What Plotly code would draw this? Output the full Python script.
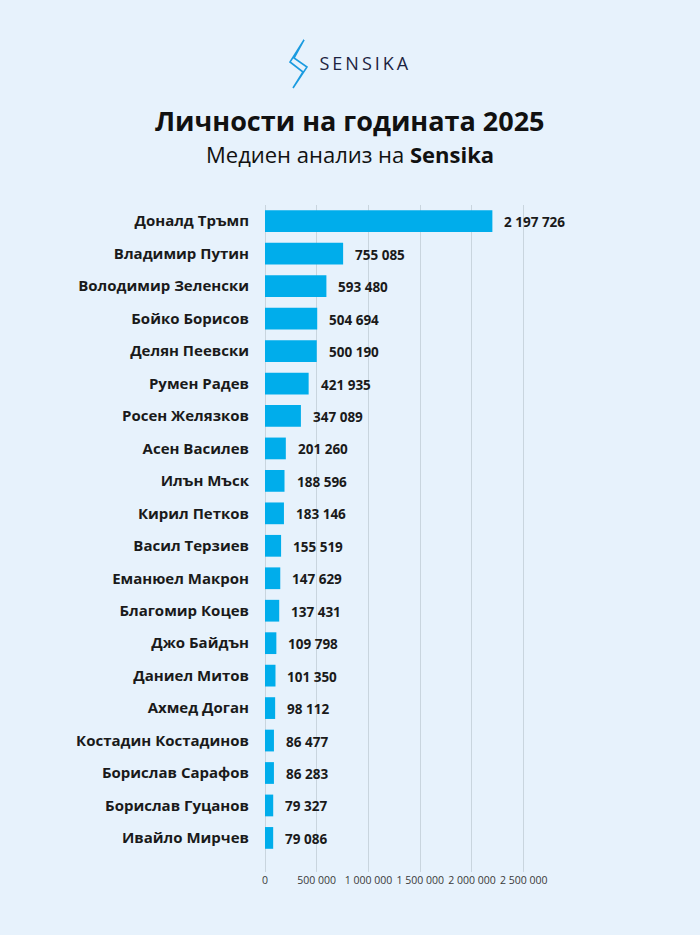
import plotly.graph_objects as go

names = ["Доналд Тръмп", "Владимир Путин", "Володимир Зеленски", "Бойко Борисов",
         "Делян Пеевски", "Румен Радев", "Росен Желязков", "Асен Василев",
         "Илън Мъск", "Кирил Петков", "Васил Терзиев", "Еманюел Макрон",
         "Благомир Коцев", "Джо Байдън", "Даниел Митов", "Ахмед Доган",
         "Костадин Костадинов", "Борислав Сарафов", "Борислав Гуцанов", "Ивайло Мирчев"]
values = [2197726, 755085, 593480, 504694, 500190, 421935, 347089, 201260,
          188596, 183146, 155519, 147629, 137431, 109798, 101350, 98112,
          86477, 86283, 79327, 79086]
tick_vals = [0, 500000, 1000000, 1500000, 2000000, 2500000]
tick_text = ["0", "500 000", "1 000 000", "1 500 000", "2 000 000", "2 500 000"]

BG = "#e7f2fc"
BAR = "#00adeb"
FONT = "Open Sans"

def fmt(v):
    return f"{v:,}".replace(",", " ")

fig = go.Figure(go.Bar(
    x=values, y=names, orientation="h",
    marker=dict(color=BAR, line=dict(width=0)),
    width=0.67, hoverinfo="skip",
))

annotations = []
for n, v in zip(names, values):
    annotations.append(dict(x=v, y=n, xref="x", yref="y", text=fmt(v),
                            showarrow=False, xanchor="left", yanchor="middle",
                            xshift=10, yshift=-1,
                            font=dict(family=FONT, size=13.5, color="#1a1a1a", weight="bold")))

annotations += [
    dict(x=328, y=63, xref="paper", yref="paper", text="SENSIKA", showarrow=False,
         xanchor="left", yanchor="middle",
         font=dict(family=FONT, size=18, color="#1c2340")),
    dict(x=350, y=120, xref="paper", yref="paper", text="Личности на годината 2025",
         showarrow=False, xanchor="center", yanchor="middle",
         font=dict(family=FONT, size=27, color="#111111", weight="bold")),
    dict(x=350, y=154, xref="paper", yref="paper",
         text="Медиен анализ на <b>Sensika</b>",
         showarrow=False, xanchor="center", yanchor="middle",
         font=dict(family=FONT, size=22, color="#111111")),
]
W, H = 700, 935
L, R, T, B = 265, 166, 205, 63
pw, ph = W - L - R, H - T - B
for a in annotations:
    if a["xref"] == "paper":
        a["x"] = (a["x"] - L) / pw
        a["y"] = (H - a["y"] - B) / ph

def px(x, y):
    return (x - L) / pw, (H - y - B) / ph

bolt = [(304, 40), (290, 62), (303, 72), (293, 88), (307, 67), (294, 58)]
path = "M " + " L ".join(f"{px(x, y)[0]:.4f},{px(x, y)[1]:.4f}" for x, y in bolt) + " Z"

fig.update_layout(
    width=W, height=H,
    paper_bgcolor=BG, plot_bgcolor=BG,
    margin=dict(l=L, r=R, t=T, b=B, autoexpand=False),
    showlegend=False,
    font=dict(family=FONT),
    annotations=annotations,
    shapes=[dict(type="path", xref="paper", yref="paper", path=path,
                 line=dict(color="#1a9be0", width=1.6), fillcolor="rgba(0,0,0,0)")],
    xaxis=dict(range=[0, 2600000], tickvals=tick_vals, ticktext=tick_text,
               showgrid=True, gridcolor="#c9d5de", gridwidth=1,
               zeroline=True, zerolinecolor="#c9d5de", zerolinewidth=1,
               showline=False, ticks="", tickangle=0, automargin=False,
               tickfont=dict(family=FONT, size=10.5, color="#3a3a3a"),
               fixedrange=True),
    yaxis=dict(type="category", categoryorder="array", categoryarray=names,
               range=[20.05, -0.5], showgrid=False, zeroline=False, showline=False,
               ticks="outside", ticklen=12, tickcolor="rgba(0,0,0,0)", automargin=False,
               tickfont=dict(family=FONT, size=15, color="#1a1a1a", weight="bold"),
               fixedrange=True),
)

post = (
    "document.body.style.margin='0';"
    "document.body.style.background='" + BG + "';"
    "document.querySelectorAll('.annotation-text').forEach(function(e){"
    "if(e.textContent==='SENSIKA'){e.style.letterSpacing='3px';}});"
)
fig.write_html("out.html", post_script=post, config={"displayModeBar": False})
